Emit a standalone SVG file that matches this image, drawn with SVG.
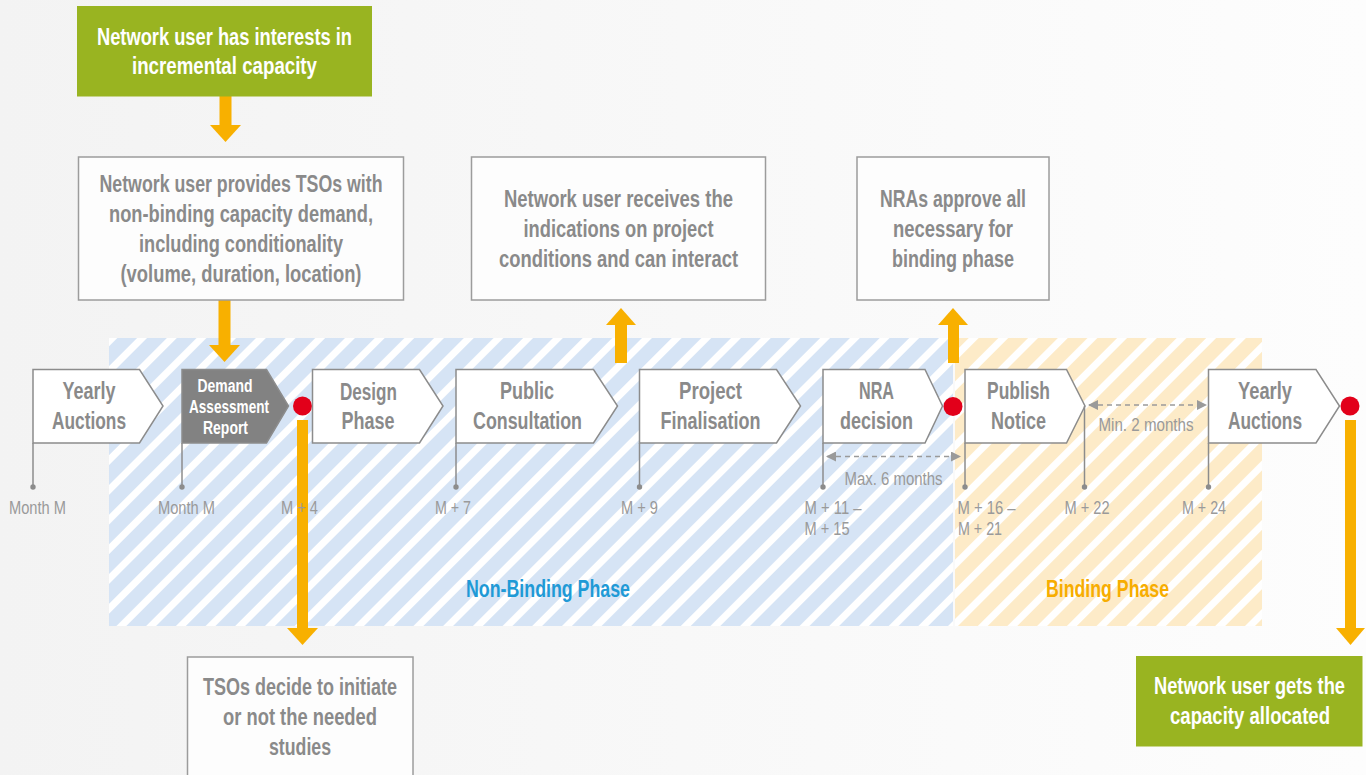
<svg xmlns="http://www.w3.org/2000/svg" width="1366" height="775" viewBox="0 0 1366 775">
<defs>
<linearGradient id="bg" x1="0" y1="0" x2="1" y2="0">
<stop offset="0" stop-color="#f3f3f3"/>
<stop offset="1" stop-color="#fdfdfd"/>
</linearGradient>
<pattern id="hb" patternUnits="userSpaceOnUse" width="21" height="21" patternTransform="rotate(45)">
<rect width="21" height="21" fill="#d6e4f5"/>
<rect width="7" height="21" fill="#ffffff"/>
</pattern>
<pattern id="ho" patternUnits="userSpaceOnUse" width="21" height="21" patternTransform="rotate(45)">
<rect width="21" height="21" fill="#fdebc8"/>
<rect width="7" height="21" fill="#ffffff"/>
</pattern>
<marker id="ah" viewBox="0 0 10 10" refX="9" refY="5" markerWidth="14" markerHeight="10" markerUnits="userSpaceOnUse" orient="auto-start-reverse">
<path d="M0,0 L10,5 L0,10 Z" fill="#9a9a9a"/>
</marker>
<style>
text{font-family:"Liberation Sans Narrow","Liberation Sans",Arial,sans-serif;text-anchor:middle}
.bt{font-size:23.5px;font-weight:bold;fill:#8a8a8a}
.wt{font-size:23.5px;font-weight:bold;fill:#ffffff}
.ft{font-size:23.5px;font-weight:bold;fill:#8a8a8a}
.dt{font-size:18px;font-weight:bold;fill:#ffffff}
.ml{font-size:17.5px;fill:#9a9a9a}
.box{fill:#fdfdfd;stroke:#9c9c9c;stroke-width:1.5}
.green{fill:#99b421}
.flag{fill:#ffffff;stroke:#8c8c8c;stroke-width:1.5}
.flagd{fill:#828282;stroke:#8c8c8c;stroke-width:1.5}
.pole{stroke:#8c8c8c;stroke-width:1.5;fill:none}
.pd{fill:#8c8c8c}
.arr{fill:#f8b000}
.rd{fill:#e2001a}
.dash{stroke:#9a9a9a;stroke-width:1.5;stroke-dasharray:5 4;fill:none}
.ph{font-size:23.5px;font-weight:bold}
</style>
</defs>
<rect x="0" y="0" width="1366" height="775" fill="url(#bg)"/>
<g id="phases">
<rect x="109" y="338" width="844" height="288" fill="url(#hb)"/>
<rect x="955" y="338" width="307" height="288" fill="url(#ho)"/>
<text class="ph" x="548" y="597" fill="#1f9ad6" textLength="164" lengthAdjust="spacingAndGlyphs">Non-Binding Phase</text>
<text class="ph" x="1107.5" y="597" fill="#f7ad00" textLength="123" lengthAdjust="spacingAndGlyphs">Binding Phase</text>
</g>
<g id="connectors">
<rect class="arr" x="219.5" y="96" width="12" height="30"/>
<polygon class="arr" points="210,125 241,125 225.5,142"/>
<rect class="arr" x="218.5" y="299" width="12" height="47"/>
<polygon class="arr" points="209,345 240,345 224.5,362"/>
<rect class="arr" x="297" y="420" width="11" height="209"/>
<polygon class="arr" points="287,628 318,628 302.5,645"/>
<rect class="arr" x="615" y="324" width="12" height="39"/>
<polygon class="arr" points="606,325 636,325 621,308"/>
<rect class="arr" x="948" y="324" width="11" height="39"/>
<polygon class="arr" points="938,325 968,325 953,308"/>
<rect class="arr" x="1345" y="420" width="11" height="209"/>
<polygon class="arr" points="1336,628 1365,628 1350.5,645"/>
<line class="dash" x1="827" y1="456.5" x2="960" y2="456.5" marker-start="url(#ah)" marker-end="url(#ah)"/>
<line class="dash" x1="1089" y1="405" x2="1206" y2="405" marker-start="url(#ah)" marker-end="url(#ah)"/>
<text class="ml" x="893.5" y="485" textLength="98" lengthAdjust="spacingAndGlyphs">Max. 6 months</text>
<text class="ml" x="1146" y="431" textLength="95" lengthAdjust="spacingAndGlyphs">Min. 2 months</text>
</g>
<g id="interest">
<rect class="green" x="77" y="6" width="295" height="90.5"/>
<text class="wt" x="224.5" y="45" textLength="255" lengthAdjust="spacingAndGlyphs">Network user has interests in</text>
<text class="wt" x="224.5" y="74" textLength="185" lengthAdjust="spacingAndGlyphs">incremental capacity</text>
</g>
<g id="demand-box">
<rect class="box" x="78.5" y="157" width="325" height="143"/>
<text class="bt" x="241" y="192" textLength="283" lengthAdjust="spacingAndGlyphs">Network user provides TSOs with</text>
<text class="bt" x="241" y="222" textLength="264" lengthAdjust="spacingAndGlyphs">non-binding capacity demand,</text>
<text class="bt" x="241" y="252" textLength="204" lengthAdjust="spacingAndGlyphs">including conditionality</text>
<text class="bt" x="241" y="282" textLength="241" lengthAdjust="spacingAndGlyphs">(volume, duration, location)</text>
</g>
<g id="receives-box">
<rect class="box" x="471.5" y="157" width="294" height="143"/>
<text class="bt" x="618.5" y="207" textLength="229" lengthAdjust="spacingAndGlyphs">Network user receives the</text>
<text class="bt" x="618.5" y="237" textLength="190" lengthAdjust="spacingAndGlyphs">indications on project</text>
<text class="bt" x="618.5" y="267" textLength="239" lengthAdjust="spacingAndGlyphs">conditions and can interact</text>
</g>
<g id="nra-box">
<rect class="box" x="857" y="157" width="192" height="143"/>
<text class="bt" x="953" y="207" textLength="146" lengthAdjust="spacingAndGlyphs">NRAs approve all</text>
<text class="bt" x="953" y="237" textLength="120" lengthAdjust="spacingAndGlyphs">necessary for</text>
<text class="bt" x="953" y="267" textLength="122" lengthAdjust="spacingAndGlyphs">binding phase</text>
</g>
<g id="tsos-box">
<rect class="box" x="187.5" y="657" width="225.5" height="130"/>
<text class="bt" x="300" y="695" textLength="194" lengthAdjust="spacingAndGlyphs">TSOs decide to initiate</text>
<text class="bt" x="300" y="725" textLength="154" lengthAdjust="spacingAndGlyphs">or not the needed</text>
<text class="bt" x="300" y="755" textLength="62" lengthAdjust="spacingAndGlyphs">studies</text>
</g>
<g id="allocated">
<rect class="green" x="1136" y="656" width="226.5" height="90.5"/>
<text class="wt" x="1249.5" y="694" textLength="191" lengthAdjust="spacingAndGlyphs">Network user gets the</text>
<text class="wt" x="1250" y="724" textLength="160" lengthAdjust="spacingAndGlyphs">capacity allocated</text>
</g>
<g id="yearly-auctions-1">
<path class="flag" d="M33,369.5 H139.5 L163,406 L139.5,443 H33 Z"/>
<line class="pole" x1="33" y1="443" x2="33" y2="487"/>
<circle class="pd" cx="33" cy="487" r="2.7"/>
<text class="ft" x="89" y="399" textLength="53" lengthAdjust="spacingAndGlyphs">Yearly</text>
<text class="ft" x="89" y="429" textLength="74" lengthAdjust="spacingAndGlyphs">Auctions</text>
<text class="ml" x="37.5" y="514" textLength="57" lengthAdjust="spacingAndGlyphs">Month M</text>
</g>
<g id="demand-assessment-report">
<path class="flagd" d="M182,369.5 H266.5 L288.5,406 L266.5,443 H182 Z"/>
<line class="pole" x1="182" y1="443" x2="182" y2="487"/>
<circle class="pd" cx="182" cy="487" r="2.7"/>
<text class="dt" x="225" y="391.5" textLength="55" lengthAdjust="spacingAndGlyphs">Demand</text>
<text class="dt" x="229" y="413" textLength="80" lengthAdjust="spacingAndGlyphs">Assessment</text>
<text class="dt" x="225.5" y="434" textLength="45" lengthAdjust="spacingAndGlyphs">Report</text>
<text class="ml" x="186.5" y="514" textLength="57" lengthAdjust="spacingAndGlyphs">Month M</text>
</g>
<g id="milestone-m4">
<circle class="rd" cx="302.5" cy="406" r="9.5"/>
<text class="ml" x="299.5" y="514" textLength="37" lengthAdjust="spacingAndGlyphs">M + 4</text>
</g>
<g id="design-phase">
<path class="flag" d="M312.5,369.5 H419.5 L443,406 L419.5,443 H312.5 Z"/>
<text class="ft" x="368.5" y="400" textLength="57" lengthAdjust="spacingAndGlyphs">Design</text>
<text class="ft" x="368" y="429" textLength="53" lengthAdjust="spacingAndGlyphs">Phase</text>
</g>
<g id="public-consultation">
<path class="flag" d="M456,369.5 H593.5 L617.5,406 L593.5,443 H456 Z"/>
<line class="pole" x1="456" y1="443" x2="456" y2="487"/>
<circle class="pd" cx="456" cy="487" r="2.7"/>
<text class="ft" x="527" y="399" textLength="54" lengthAdjust="spacingAndGlyphs">Public</text>
<text class="ft" x="527.5" y="429" textLength="109" lengthAdjust="spacingAndGlyphs">Consultation</text>
<text class="ml" x="453" y="514" textLength="36" lengthAdjust="spacingAndGlyphs">M + 7</text>
</g>
<g id="project-finalisation">
<path class="flag" d="M639.5,369.5 H776.5 L800.5,406 L776.5,443 H639.5 Z"/>
<line class="pole" x1="639.5" y1="443" x2="639.5" y2="487"/>
<circle class="pd" cx="639.5" cy="487" r="2.7"/>
<text class="ft" x="710.5" y="399" textLength="63" lengthAdjust="spacingAndGlyphs">Project</text>
<text class="ft" x="710.5" y="429" textLength="100" lengthAdjust="spacingAndGlyphs">Finalisation</text>
<text class="ml" x="639.5" y="514" textLength="37" lengthAdjust="spacingAndGlyphs">M + 9</text>
</g>
<g id="nra-decision">
<path class="flag" d="M823,369.5 H925 L942.5,406 L925,443 H823 Z"/>
<line class="pole" x1="823" y1="443" x2="823" y2="487"/>
<circle class="pd" cx="823" cy="487" r="2.7"/>
<text class="ft" x="876.5" y="399" textLength="35" lengthAdjust="spacingAndGlyphs">NRA</text>
<text class="ft" x="876.5" y="429" textLength="73" lengthAdjust="spacingAndGlyphs">decision</text>
<text class="ml" x="833" y="514" textLength="57" lengthAdjust="spacingAndGlyphs">M + 11 –</text>
<text class="ml" x="827" y="535" textLength="45" lengthAdjust="spacingAndGlyphs">M + 15</text>
</g>
<g id="milestone-binding">
<circle class="rd" cx="953" cy="406.5" r="9.5"/>
</g>
<g id="publish-notice">
<path class="flag" d="M965,369.5 H1066.5 L1085,406 L1066.5,443 H965 Z"/>
<line class="pole" x1="965" y1="443" x2="965" y2="487"/>
<circle class="pd" cx="965" cy="487" r="2.7"/>
<line class="pole" x1="1084.5" y1="406" x2="1084.5" y2="487"/>
<circle class="pd" cx="1084.5" cy="487" r="2.7"/>
<text class="ft" x="1018.5" y="399" textLength="63" lengthAdjust="spacingAndGlyphs">Publish</text>
<text class="ft" x="1018.5" y="429" textLength="55" lengthAdjust="spacingAndGlyphs">Notice</text>
<text class="ml" x="986.5" y="514" textLength="58" lengthAdjust="spacingAndGlyphs">M + 16 –</text>
<text class="ml" x="980" y="535" textLength="44" lengthAdjust="spacingAndGlyphs">M + 21</text>
<text class="ml" x="1087" y="514" textLength="45" lengthAdjust="spacingAndGlyphs">M + 22</text>
</g>
<g id="yearly-auctions-2">
<path class="flag" d="M1208.5,369.5 H1316 L1339.5,406 L1316,443 H1208.5 Z"/>
<line class="pole" x1="1208.5" y1="443" x2="1208.5" y2="487"/>
<circle class="pd" cx="1208.5" cy="487" r="2.7"/>
<text class="ft" x="1265" y="399" textLength="54" lengthAdjust="spacingAndGlyphs">Yearly</text>
<text class="ft" x="1265" y="429" textLength="74" lengthAdjust="spacingAndGlyphs">Auctions</text>
<text class="ml" x="1204" y="514" textLength="44" lengthAdjust="spacingAndGlyphs">M + 24</text>
</g>
<g id="milestone-end">
<circle class="rd" cx="1350" cy="406" r="9.5"/>
</g>
</svg>
